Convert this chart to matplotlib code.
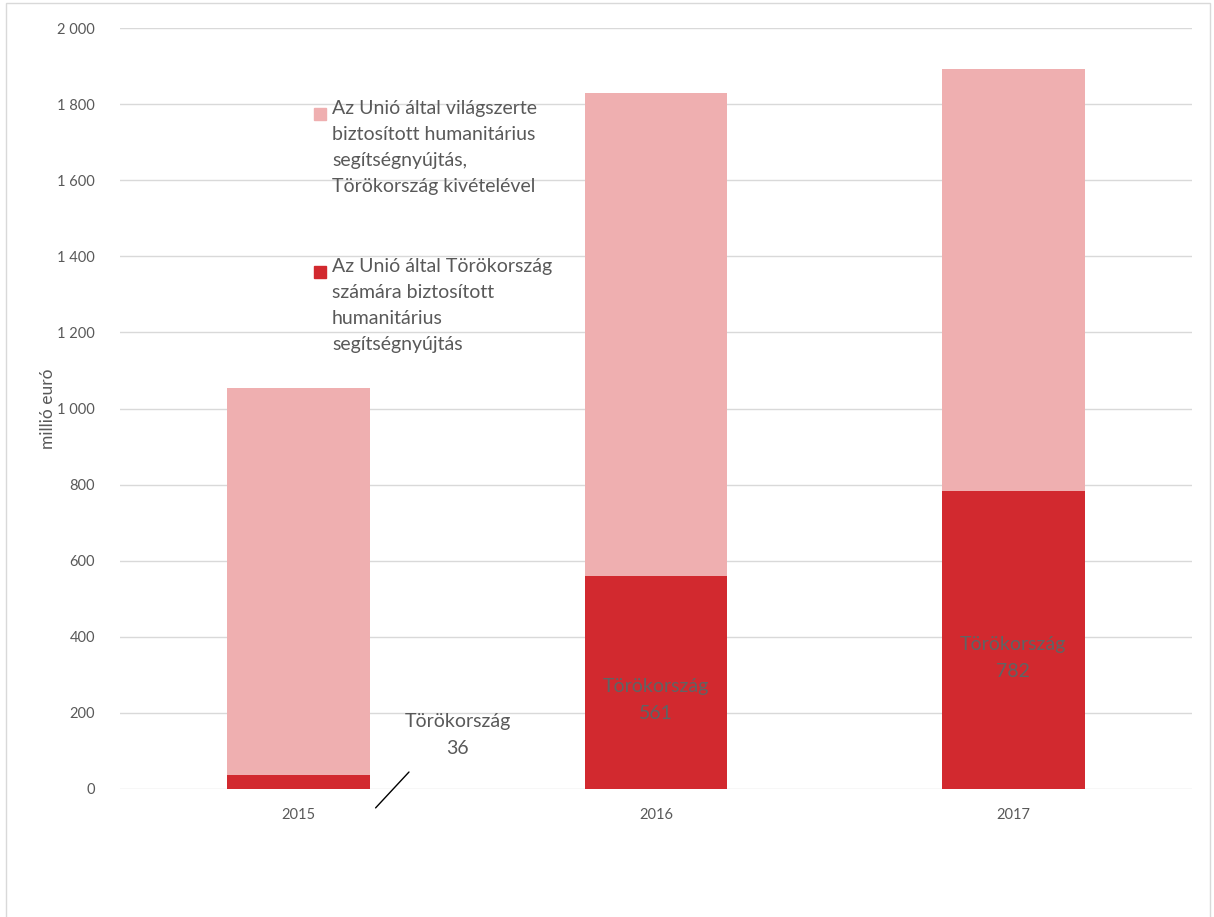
import matplotlib.pyplot as plt
import matplotlib.patches as mpatches
from matplotlib.ticker import FuncFormatter
import numpy as np

plt.rcParams['font.family'] = ['Lato', 'DejaVu Sans']

years = ["2015", "2016", "2017"]
turkey = [36, 561, 782]
world_excl_turkey = [1018, 1268, 1110]
turkey_label = "Törökország"
legend_labels = [
    "Az Unió által világszerte\nbiztosított humanitárius\nsegítségnyújtás,\nTörökország kivételével",
    "Az Unió által Törökország\nszámára biztosított\nhumanitárius\nsegítségnyújtás",
]
y_label = "millió euró"

DARK = "#d2292f"
LIGHT = "#efafb0"
GRID = "#d9d9d9"
TXT = "#595959"

fig = plt.figure(figsize=(12.14, 9.17), dpi=100)
ax = fig.add_axes([120 / 1214, 1 - 789 / 917, 1072 / 1214, 761 / 917])

x = np.arange(len(years))
ax.bar(x, turkey, width=0.4, color=DARK, zorder=2)
ax.bar(x, world_excl_turkey, width=0.4, bottom=turkey, color=LIGHT, zorder=2)

ax.set_xlim(-0.5, len(years) - 0.5)
ax.set_ylim(0, 2000)
ax.set_yticks(np.arange(0, 2001, 200))
ax.yaxis.set_major_formatter(FuncFormatter(lambda v, p: f"{int(v):,}".replace(",", " ")))
ax.set_xticks(x)
ax.set_xticklabels(years)
ax.tick_params(length=0, labelsize=10.5, colors=TXT, pad=14)
ax.tick_params(axis='y', pad=18)
ax.grid(axis='y', color=GRID, lw=1, zorder=0)
for s in ax.spines.values():
    s.set_visible(False)
ax.set_ylabel(y_label, fontsize=12.5, color=TXT, labelpad=1)

# data labels
for i, v in enumerate(turkey):
    if v < 100:
        ax.text(i + 0.445, 142, f"{turkey_label}\n{v}", ha='center', va='center',
                fontsize=14, color=TXT, linespacing=1.7)
        ax.annotate("", xy=(i + 0.21, -55), xytext=(i + 0.314, 50),
                    arrowprops=dict(arrowstyle='-', color='black', lw=1),
                    annotation_clip=False)
    else:
        ax.annotate(f"{turkey_label}\n{v}", xy=(i, v / 2), xytext=(0, -13),
                    textcoords='offset points', ha='center', va='center',
                    fontsize=14, color="#5f6464", linespacing=1.7)

# legend drawn manually (handles aligned with first line)
leg_x = (314 - 120) / 1072
for lab, col, ytop in zip(legend_labels, [LIGHT, DARK], [(789 - 112) / 761, (789 - 270) / 761]):
    ax.add_patch(mpatches.Rectangle((leg_x, ytop - 0.011), 0.0115, 0.0165,
                                    transform=ax.transAxes, color=col, clip_on=False, zorder=3))
    ax.text(leg_x + 0.0168, ytop + 0.016, lab, transform=ax.transAxes, ha='left', va='top',
            fontsize=14, color=TXT, linespacing=1.65, zorder=3)

fig.patches.append(mpatches.Rectangle((6 / 1214, -0.01), 1204 / 1214, 1 - 3 / 917 + 0.01,
                                      transform=fig.transFigure, fill=False,
                                      edgecolor=GRID, lw=1))

fig.savefig("out.png", dpi=100)
